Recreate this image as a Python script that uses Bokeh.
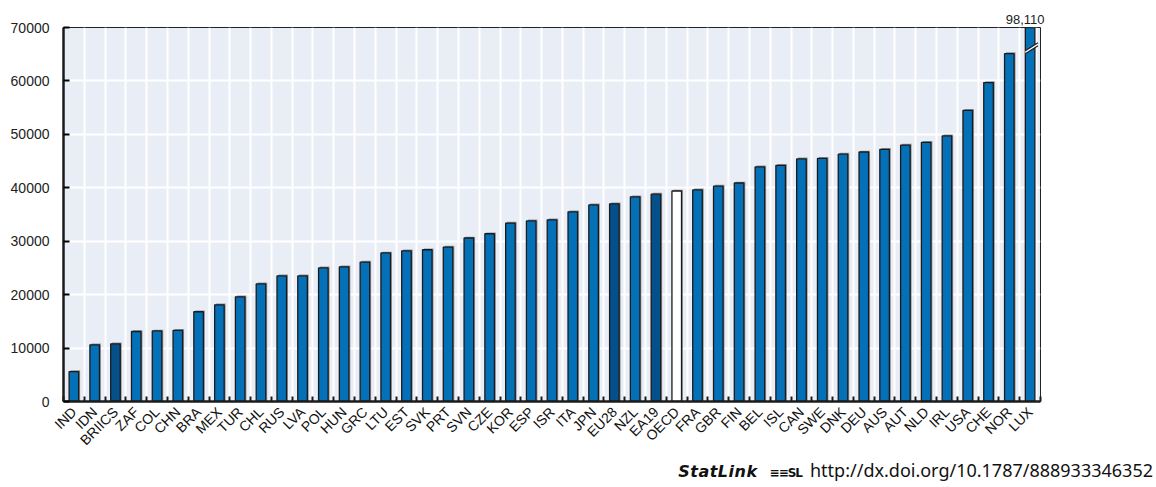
import math
from bokeh.plotting import figure
from bokeh.models import (ColumnDataSource, Range1d, FixedTicker, Title, Div)
from bokeh.layouts import column
from bokeh.embed import file_html
from bokeh.resources import INLINE

# ---- data ----
countries = ["IND", "IDN", "BRIICS", "ZAF", "COL", "CHN", "BRA", "MEX", "TUR", "CHL",
             "RUS", "LVA", "POL", "HUN", "GRC", "LTU", "EST", "SVK", "PRT", "SVN",
             "CZE", "KOR", "ESP", "ISR", "ITA", "JPN", "EU28", "NZL", "EA19", "OECD",
             "FRA", "GBR", "FIN", "BEL", "ISL", "CAN", "SWE", "DNK", "DEU", "AUS",
             "AUT", "NLD", "IRL", "USA", "CHE", "NOR", "LUX"]
gdp_per_capita = [5600, 10600, 10800, 13100, 13200, 13300, 16800, 18100, 19600, 22000,
                  23500, 23500, 25000, 25200, 26100, 27800, 28200, 28400, 28900, 30600,
                  31400, 33400, 33800, 34000, 35500, 36800, 37000, 38300, 38800, 39400,
                  39600, 40300, 40900, 43900, 44200, 45400, 45500, 46300, 46700, 47200,
                  48000, 48500, 49700, 54500, 59700, 65100, 98110]
group_kind = ["c"] * len(countries)
for name in ("BRIICS", "EU28", "EA19"):
    group_kind[countries.index(name)] = "agg"
group_kind[countries.index("OECD")] = "oecd"

y_ticks = [0, 10000, 20000, 30000, 40000, 50000, 60000, 70000]
y_max = 70000
statlink_url = "http://dx.doi.org/10.1787/888933346352"

# ---- styling ----
BLUE = "#0470b8"
DARK = "#03508a"
fills = {"c": BLUE, "agg": DARK, "oecd": "#ffffff"}

n = len(countries)
xc = [i + 0.5 for i in range(n)]
tops = [min(v, y_max) for v in gdp_per_capita]
trunc = [v > y_max for v in gdp_per_capita]
src = ColumnDataSource(dict(
    x=xc, top=tops, cat=countries,
    fill=[fills[k] for k in group_kind],
    xs=[x + (0.2 if t else 0.07) for x, t in zip(xc, trunc)],
    tops=[t + 250 for t in tops],
    sfill=["#ffffff" if t else "#7d7d7d" for t in trunc],
    sw=[0.3 if t else 0.46 for t in trunc],
))

W = 1150
p = figure(width=W, height=456, output_backend="svg", toolbar_location=None,
           x_range=Range1d(0, n), y_range=Range1d(0, y_max),
           min_border_left=63, min_border_right=W - 1040, min_border_top=27,
           min_border_bottom=54, background_fill_color="#e9edf6",
           border_fill_color="white", outline_line_color="#222222",
           outline_line_width=1)

# shadow
p.vbar(x="xs", top="tops", width="sw", bottom=0, source=src,
       fill_color="sfill", fill_alpha=0.8, line_color=None)
# bars
p.vbar(x="x", top="top", width=0.46, bottom=0, source=src,
       fill_color="fill", line_color="#1b1b1b", line_width=1.3)

# axis break on truncated bar(s) + value label
for i, v in enumerate(gdp_per_capita):
    if v > y_max:
        b0 = y_max * 0.93
        rise = y_max * 0.021
        gap = y_max * 0.008
        x0, x1 = xc[i] - 0.23, xc[i] + 0.38
        p.patch([x0, x1, x1, x0], [b0, b0 + rise, b0 + rise + gap, b0 + gap],
                fill_color="white", line_color=None)
        p.segment(x0=[x0, x0], y0=[b0, b0 + gap], x1=[x1, x1],
                  y1=[b0 + rise, b0 + rise + gap],
                  line_color="#1b1b1b", line_width=1.2)
        p.add_layout(Title(text=f"{v:,}", align="right", offset=-4, standoff=8,
                           text_font="Liberation Sans", text_font_style="normal",
                           text_font_size="13px", text_color="#222222"), "above")

# axes
p.xaxis.ticker = FixedTicker(ticks=xc, minor_ticks=list(range(n + 1)))
p.xaxis.major_label_overrides = {x: c for x, c in zip(xc, countries)}
p.xaxis.major_label_orientation = math.pi / 4
p.xaxis.major_tick_line_color = None
p.xaxis.minor_tick_in = 5
p.xaxis.minor_tick_out = 0
p.xaxis.minor_tick_line_color = "#1b1b1b"
p.xaxis.minor_tick_line_width = 2
p.xaxis.axis_line_width = 2.5
p.xaxis.axis_line_color = "#1b1b1b"
p.xaxis.major_label_text_font = "Liberation Sans"
p.xaxis.major_label_text_font_size = "14px"
p.xaxis.major_label_text_color = "#111111"
p.xaxis.major_label_standoff = 2

p.yaxis.ticker = FixedTicker(ticks=y_ticks)
p.yaxis.major_tick_in = 6
p.yaxis.major_tick_out = 0
p.yaxis.major_tick_line_width = 2
p.yaxis.minor_tick_line_color = None
p.yaxis.axis_line_width = 2.5
p.yaxis.axis_line_color = "#1b1b1b"
p.yaxis.major_label_text_font = "Liberation Sans"
p.yaxis.major_label_text_font_size = "14px"
p.yaxis.major_label_text_color = "#222222"
p.yaxis.major_label_standoff = 14

p.xgrid.ticker = FixedTicker(ticks=list(range(n + 1)))
p.xgrid.grid_line_color = "white"
p.xgrid.grid_line_width = 2
p.ygrid.grid_line_color = "white"
p.ygrid.grid_line_width = 2

# footer (StatLink)
footer_html = (
    '<div style="width:1148px; text-align:right; white-space:nowrap; '
    'margin-top:-3px; color:#111;">'
    '<span style="font-family:\'DejaVu Sans\'; font-weight:bold; font-style:italic; '
    'font-size:16px; letter-spacing:0.5px;">StatLink</span>'
    '<span style="font-family:\'DejaVu Sans\'; font-weight:bold; font-size:12px; '
    'margin:0 8px 0 12px; letter-spacing:-1px;">&#8801;&#8801;SL</span>'
    f'<span style="font-family:\'Noto Sans\'; font-size:18px;">{statlink_url}</span>'
    '</div>'
)
footer = Div(text=footer_html, width=1148, height=30,
             styles={"text-align": "right"})

layout = column(p, footer, spacing=0)
open("out.html", "w").write(file_html(layout, INLINE))
